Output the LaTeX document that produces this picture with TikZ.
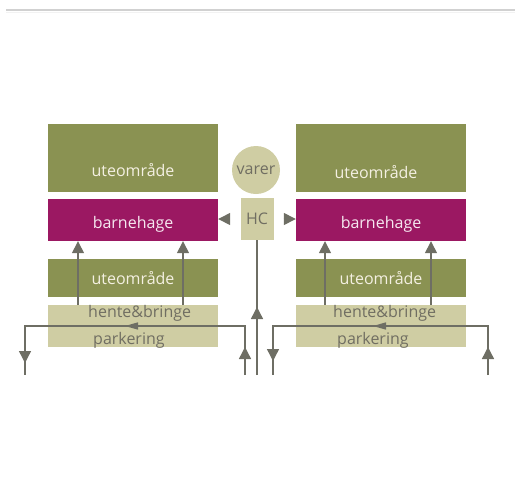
\documentclass[tikz,border=0pt]{standalone}
\usepackage{fontspec}
\setmainfont{Open Sans}
\usetikzlibrary{arrows.meta, decorations.markings}

\definecolor{oliven}{RGB}{138,146,82}
\definecolor{lilla}{RGB}{155,24,98}
\definecolor{sand}{RGB}{207,205,163}
\definecolor{strekgraa}{RGB}{110,110,100}
\definecolor{tekstgraa}{RGB}{112,110,98}
\definecolor{lys}{RGB}{244,240,226}
\definecolor{lysrosa}{RGB}{246,232,240}

\begin{document}
\begin{tikzpicture}[x=1pt, y=-1pt,
  font=\fontsize{16}{18}\selectfont,
  felt/.style={inner sep=0pt, minimum width=170pt},
  ute/.style={felt, fill=oliven, text=lys},
  hage/.style={felt, fill=lilla, text=lysrosa, minimum height=42pt,
    text height=17pt, text depth=0pt},
  park/.style={felt, fill=sand, minimum height=42pt},
  parktekst/.style={anchor=west, inner sep=0pt, text=tekstgraa},
  linje/.style={draw=strekgraa, line width=1.4pt},
  tri/.style={-{Triangle[width=12pt,length=12pt]}},
  pilmerke/.style={postaction={decorate, decoration={markings,
      mark=at position #1 with {\arrow{Triangle[width=12pt,length=12pt]}}}}},
  flatmerke/.style={postaction={decorate, decoration={markings,
      mark=at position #1 with {\arrow{Triangle[width=7pt,length=13pt]}}}}}
]
\useasboundingbox (0,0) rectangle (515,491);

% streken overst
\draw[black!18, line width=1.3pt] (6,10) -- (515,10);
\draw[black!5, line width=1.5pt] (6,12.5) -- (515,12.5);

% venstre bygg
\node[ute, minimum height=68pt, label={[text=lys, yshift=-12pt]center:uteområde}] (ute1V) at (133,158) {};
\node[hage] (hageV) at (133,220) {barnehage};
\node[ute, minimum height=38pt] (ute2V) at (133,278) {uteområde};
\node[park] (parkV) at (133,326) {};
\node[parktekst] (henteV) at (88,313) {hente\&bringe};
\node[parktekst] (parkeringV) at (93,340) {parkering};

% hoyre bygg
\node[ute, minimum height=68pt, label={[text=lys, yshift=-14pt, xshift=-5pt]center:uteområde}] (ute1H) at (381,158) {};
\node[hage] (hageH) at (381,220) {barnehage};
\node[ute, minimum height=38pt] (ute2H) at (381,278) {uteområde};
\node[park] (parkH) at (381,326) {};
\node[parktekst] (henteH) at (333,313) {hente\&bringe};
\node[parktekst] (parkeringH) at (337,340) {parkering};

% midten
\node[circle, fill=sand, text=tekstgraa, minimum size=48pt, inner sep=0pt] (varer) at (256,170) {varer};
\node[fill=sand, text=tekstgraa, minimum width=33pt, minimum height=42pt, inner sep=0pt] (HC) at (257,219) {HC};

\draw[linje, tri, shorten <=11pt] (HC.west) -- (HC.west -| hageV.east);
\draw[linje, tri, shorten <=10pt] (HC.east) -- (HC.east -| hageH.west);

% innganger
\coordinate (pilV1) at (78,0);
\coordinate (pilV2) at (183,0);
\coordinate (pilH1) at (325,0);
\coordinate (pilH2) at (431,0);
\foreach \p/\b in {pilV1/V, pilV2/V, pilH1/H, pilH2/H}
  \draw[linje, tri] (\p |- park\b.north) -- (\p |- hage\b.south);

% kjoring
\coordinate (innkjoring) at (257,375);
\coordinate (innV) at (245,375);
\coordinate (utV) at (25,375);
\coordinate (innH) at (488,375);
\coordinate (utH) at (273,375);

\draw[linje, pilmerke=68pt] (innkjoring) -- (HC.south);
\draw[linje, pilmerke=28pt, flatmerke=169pt, pilmerke=306pt] (innV) |- (parkV.center) -| (utV);
\draw[linje, pilmerke=28pt, flatmerke=164pt, pilmerke=299pt] (innH) |- (parkH.center) -| (utH);

\end{tikzpicture}
\end{document}
